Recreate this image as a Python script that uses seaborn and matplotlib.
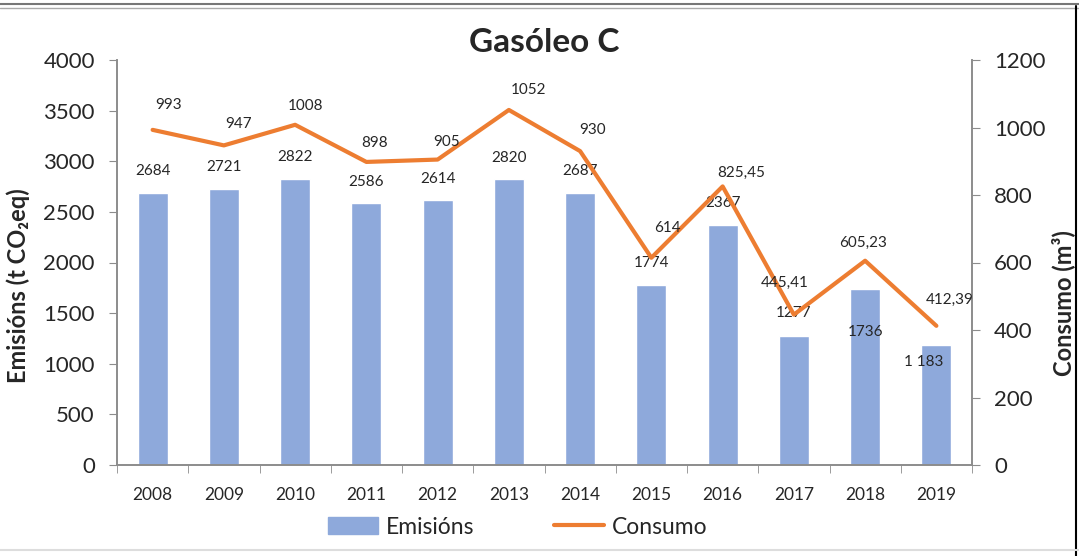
import numpy as np
import pandas as pd
import matplotlib.pyplot as plt
import seaborn as sns
from matplotlib.lines import Line2D

# Data
years = ['2008', '2009', '2010', '2011', '2012', '2013', '2014', '2015', '2016', '2017', '2018', '2019']
emisions = [2684, 2721, 2822, 2586, 2614, 2820, 2687, 1774, 2367, 1277, 1736, 1183]
consumo = [993, 947, 1008, 898, 905, 1052, 930, 614, 825.45, 445.41, 605.23, 412.39]
emision_labels = ['2684', '2721', '2822', '2586', '2614', '2820', '2687', '1774', '2367', '1277', '1736', '1 183']
consumo_labels = ['993', '947', '1008', '898', '905', '1052', '930', '614', '825,45', '445,41', '605,23', '412,39']

# label offsets in pixels (dx, dy)
bar_offsets = [(0, 22), (0, 22), (0, 22), (0, 21), (0, 21), (0, 21), (0, 22),
               (0, 22), (0, 22), (0, 23), (0, -43), (-13, -17)]
line_offsets = [(16, 25), (15, 21), (10, 19), (8, 19), (9, 18), (20, 20), (12, 21),
                (16, 30), (19, 14), (-9, 32), (-2, 18), (13, 26)]

sns.set_style('white')
plt.rcParams['font.family'] = ['Lato', 'DejaVu Sans']

bar_color = '#8EA9DB'
line_color = '#ED7D31'
axis_color = '#8C8C8C'

fig = plt.figure(figsize=(10.79, 5.56), dpi=100)
ax = fig.add_axes([117 / 1079, 91 / 556, 855 / 1079, 405 / 556])

df = pd.DataFrame({'year': years, 'emisions': emisions})
sns.barplot(data=df, x='year', y='emisions', color=bar_color, width=0.42,
            saturation=1, ax=ax)
ax.set_xlim(-0.5, len(years) - 0.5)
ax.set_ylim(0, 4000)
ax.set_yticks(np.arange(0, 4001, 500))

ax2 = ax.twinx()
sns.lineplot(x=np.arange(len(years)), y=consumo, color=line_color, linewidth=3,
             ax=ax2, legend=False)
ax2.set_ylim(0, 1200)
ax2.set_yticks(np.arange(0, 1201, 200))
ax.set_xlim(-0.5, len(years) - 0.5)

# spines and ticks
for a in (ax, ax2):
    a.spines['top'].set_visible(False)
    for side in ('left', 'right', 'bottom'):
        a.spines[side].set_color(axis_color)
        a.spines[side].set_linewidth(1.2)
ax.tick_params(axis='y', left=True, length=6, color=axis_color, labelsize=16, pad=10)
ax2.tick_params(axis='y', right=True, length=6, color=axis_color, labelsize=16, pad=10)
ax.tick_params(axis='x', bottom=False, labelsize=12.5, pad=12)
ax.set_xticks(np.arange(-0.5, len(years), 1), minor=True)
ax.tick_params(axis='x', which='minor', bottom=True, length=6, color=axis_color)

ax.set_xlabel('')
ax.set_ylabel('Emisións (t CO\u2082eq)', fontsize=17, fontweight='bold')
ax2.set_ylabel('Consumo (m\u00b3)', fontsize=17, fontweight='bold')
ax.yaxis.set_label_coords(-0.102, 0.442)
ax2.yaxis.set_label_coords(1.092, 0.40)
ax.set_title('Gasóleo C', fontsize=24, fontweight='bold', pad=6)

# data labels
for i, (v, lab) in enumerate(zip(emisions, emision_labels)):
    dx, dy = bar_offsets[i]
    ax.annotate(lab, (i, v), xytext=(dx, dy), textcoords='offset pixels',
                ha='center', va='center', fontsize=11)
for i, (v, lab) in enumerate(zip(consumo, consumo_labels)):
    dx, dy = line_offsets[i]
    ax2.annotate(lab, (i, v), xytext=(dx, dy), textcoords='offset pixels',
                 ha='center', va='center', fontsize=11)

# legend
handles = [plt.Rectangle((0, 0), 1, 1, color=bar_color),
           Line2D([0], [0], color=line_color, linewidth=3)]
fig.legend(handles, ['Emisións', 'Consumo'], loc='center', bbox_to_anchor=(0.48, 0.052),
           ncol=2, frameon=False, fontsize=16.5, handlelength=2.15, handleheight=0.8,
           handletextpad=0.35, columnspacing=3.5)

# outer frame lines
fig.add_artist(Line2D([0, 1], [0.993, 0.993], transform=fig.transFigure, color='#777777', lw=1.5))
fig.add_artist(Line2D([0, 1], [0.986, 0.986], transform=fig.transFigure, color='#aaaaaa', lw=1))
fig.add_artist(Line2D([0.997, 0.997], [0, 0.99], transform=fig.transFigure, color='black', lw=1.5))
fig.add_artist(Line2D([0, 1], [0.01, 0.01], transform=fig.transFigure, color='#dddddd', lw=1.5))

fig.savefig('out.png', dpi=100)
